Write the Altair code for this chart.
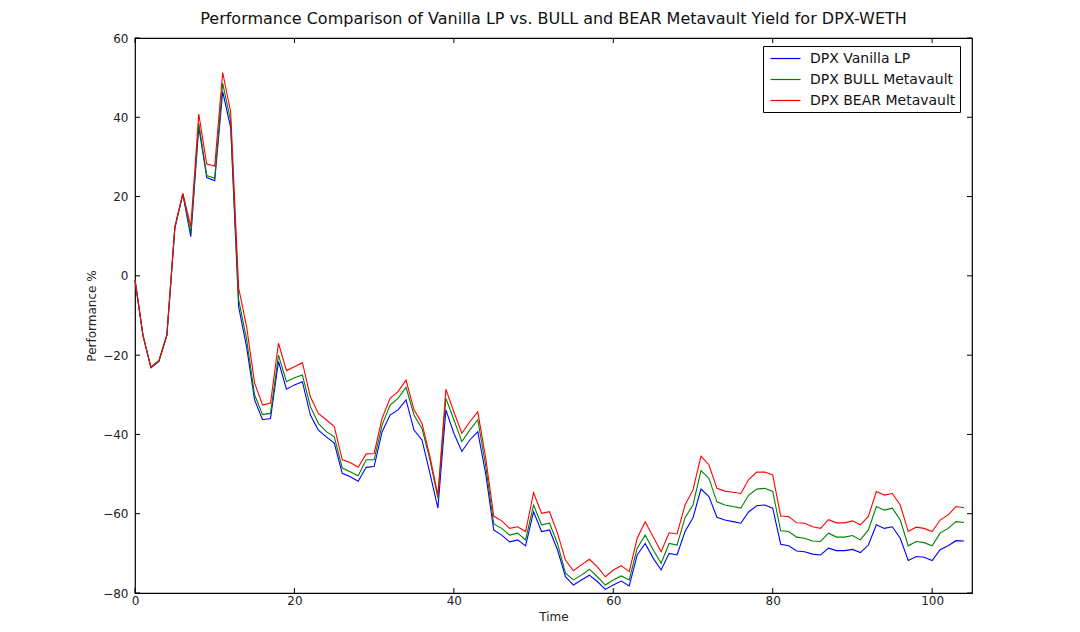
import altair as alt
import pandas as pd

title_text = "Performance Comparison of Vanilla LP vs. BULL and BEAR Metavault Yield for DPX-WETH"
series_names = ["DPX Vanilla LP", "DPX BULL Metavault", "DPX BEAR Metavault"]
series_colors = ["#0000ff", "#008000", "#ff0000"]

time = list(range(105))

vanilla = [
    -1, -15, -23.2, -21.6, -15, 12, 20.6, 9.9, 37.6, 24.8,
    24.0, 46.5, 37.4, -7.8, -17.9, -31.3, -36.3, -36.0, -21.6, -28.6,
    -27.5, -26.7, -35.1, -38.9, -40.6, -42.2, -49.8, -50.7, -51.8, -48.3,
    -48.1, -39.3, -35.1, -33.8, -31.3, -38.9, -41.4, -49.8, -58.6, -33.8,
    -39.7, -44.3, -41.4, -39.3, -50, -64.1, -65.4, -67.1, -66.6, -68.1,
    -59.5, -64.5, -64.1, -69.1, -75.9, -78.0, -76.7, -75.5, -77.1, -79.1,
    -78.0, -77.0, -78.2, -70.4, -67.5, -71.2, -74.2, -70.0, -70.4, -64.5,
    -61.0, -53.8, -55.7, -60.9, -61.6, -62.0, -62.4, -59.5, -58.0, -57.8,
    -58.6, -67.7, -68.1, -69.4, -69.6, -70.2, -70.4, -68.7, -69.3, -69.3,
    -69.0, -69.8, -67.9, -62.8, -63.7, -63.3, -66.2, -71.8, -70.8, -71.0,
    -71.8, -69.1, -68.1, -66.8, -66.9,
]

bull = [
    -1, -15, -23.1, -21.5, -15, 12.2, 20.7, 10.8, 38.5, 25.3,
    24.6, 48.6, 39, -6, -16, -30, -35, -34.7, -20, -26.7,
    -25.7, -25, -33, -37.2, -39.3, -40.6, -48.5, -49.4, -50.4, -46.4,
    -46.4, -37.6, -32.6, -30.9, -28.1, -35.1, -38.5, -46.4, -56.1, -30.9,
    -36.3, -41.8, -38.9, -36.3, -48, -62.6, -63.7, -65.4, -64.9, -66.6,
    -57.8, -62.8, -62.4, -67.5, -75, -76.7, -75.5, -74, -75.9, -78,
    -76.7, -75.7, -76.7, -68.7, -65.4, -69.1, -72.5, -67.5, -67.9, -61,
    -57.8, -49.1, -51.1, -57, -57.8, -58.2, -58.6, -55.3, -53.8, -53.6,
    -54.4, -64.3, -64.5, -65.9, -66.2, -66.9, -67, -64.9, -65.9, -65.9,
    -65.5, -66.6, -64.1, -58.2, -59.1, -58.6, -61.6, -68.1, -67, -67.3,
    -68.1, -64.9, -63.7, -62, -62.2,
]

bear = [
    -1, -15, -23, -21.3, -14.8, 12.4, 20.8, 12.4, 40.8, 28.2,
    27.7, 51.3, 41.4, -3, -12.8, -27, -32.6, -32.1, -17, -23.9,
    -22.9, -21.9, -30.5, -34.7, -36.3, -38, -46.4, -47.1, -48.3, -44.9,
    -44.8, -35.9, -30.9, -29.2, -26.3, -33.8, -37.2, -45.6, -55.3, -28.6,
    -34.3, -39.7, -36.8, -34.3, -46, -60.6, -61.8, -63.7, -63.3, -64.5,
    -54.7, -59.9, -59.5, -64.9, -71.7, -74.4, -72.9, -71.5, -73.4, -75.9,
    -74.2, -73.1, -74.6, -66.2, -62, -65.8, -69.6, -64.8, -65.1, -57.8,
    -54, -45.5, -47.7, -53.6, -54.3, -54.6, -54.9, -51.3, -49.5, -49.5,
    -50.2, -60.6, -60.7, -62.3, -62.4, -63.3, -63.7, -61.5, -62.3, -62.3,
    -61.8, -62.8, -60.7, -54.4, -55.3, -54.9, -57.8, -64.5, -63.4, -63.7,
    -64.5, -61.6, -60.3, -58.2, -58.5,
]

x_ticks = [0, 20, 40, 60, 80, 100]
y_ticks = [-80, -60, -40, -20, 0, 20, 40, 60]

W, H = 837, 555
FONT = "DejaVu Sans"

rows = []
for name, vals in zip(series_names, [vanilla, bull, bear]):
    for t, v in zip(time, vals):
        rows.append({"Time": t, "Performance": v, "Series": name})
df = pd.DataFrame(rows)

xscale = alt.Scale(domain=[0, 105], nice=False, zero=False)
yscale = alt.Scale(domain=[-80, 60], nice=False, zero=False)

lines = alt.Chart(df).mark_line(strokeWidth=1.1).encode(
    x=alt.X("Time:Q", scale=xscale, title="Time",
            axis=alt.Axis(values=x_ticks, ticks=False, domain=False, grid=False,
                          labelFlush=False, labelOverlap=False,
                          labelPadding=2, titlePadding=5, labelFontSize=12,
                          titleFontSize=12, labelFont=FONT, titleFont=FONT,
                          titleFontWeight="normal", labelColor="#222", titleColor="#222")),
    y=alt.Y("Performance:Q", scale=yscale, title="Performance %",
            axis=alt.Axis(values=y_ticks, ticks=False, domain=False, grid=False,
                          labelFlush=False, labelOverlap=False,
                          labelPadding=7, titlePadding=4, labelFontSize=12,
                          titleFontSize=12, labelFont=FONT, titleFont=FONT,
                          titleFontWeight="normal", labelColor="#222", titleColor="#222")),
    color=alt.Color("Series:N",
                    scale=alt.Scale(domain=series_names, range=series_colors),
                    sort=series_names,
                    legend=alt.Legend(title=None, orient="none", legendX=628, legendY=8,
                                      symbolType="M-2,0L2,0", symbolSize=225,
                                      symbolOffset=10, symbolStrokeWidth=1.2,
                                      labelFontSize=14, labelFont=FONT, labelColor="#111",
                                      labelOffset=16, rowPadding=5, padding=4,
                                      fillColor="white", strokeColor="black")),
    detail="Series:N",
)

xt = pd.DataFrame({"v": x_ticks})
yt = pd.DataFrame({"v": y_ticks})
TL = 5

top_ticks = alt.Chart(xt).mark_rule(color="black").encode(
    x=alt.X("v:Q", scale=xscale), y=alt.value(0), y2=alt.value(TL))
bot_ticks = alt.Chart(xt).mark_rule(color="black").encode(
    x=alt.X("v:Q", scale=xscale), y=alt.value(H - TL), y2=alt.value(H))
left_ticks = alt.Chart(yt).mark_rule(color="black").encode(
    y=alt.Y("v:Q", scale=yscale), x=alt.value(0), x2=alt.value(TL))
right_ticks = alt.Chart(yt).mark_rule(color="black").encode(
    y=alt.Y("v:Q", scale=yscale), x=alt.value(W - TL), x2=alt.value(W))

chart = alt.layer(lines, top_ticks, bot_ticks, left_ticks, right_ticks).properties(
    width=W, height=H,
    title=alt.TitleParams(title_text, fontSize=16, font=FONT, fontWeight="normal",
                          color="#111", offset=5, anchor="middle"),
    autosize=alt.AutoSizeParams(type="none"),
    padding={"left": 127, "top": 30, "right": 100, "bottom": 30},
    background="white",
).configure_view(stroke="black", strokeWidth=1.2)

chart.save("out.html", embed_options={"renderer": "svg", "actions": False})
